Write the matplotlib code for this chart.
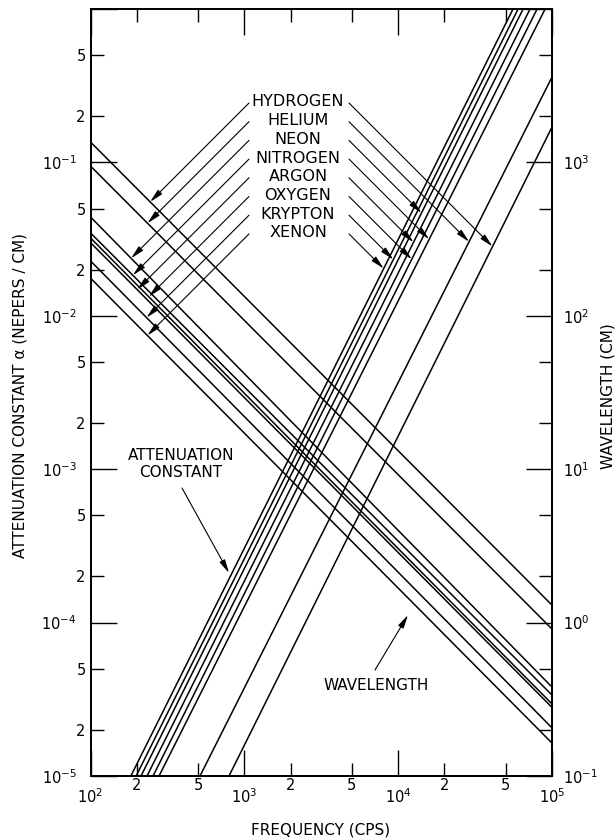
import matplotlib
matplotlib.use('Agg')
import matplotlib.pyplot as plt
import numpy as np
from matplotlib.ticker import LogLocator, FuncFormatter, NullFormatter

plt.rcParams['font.family'] = 'DejaVu Sans'

# values
gases = ['HYDROGEN', 'HELIUM', 'NEON', 'NITROGEN', 'ARGON', 'OXYGEN', 'KRYPTON', 'XENON']
freq_span = [1e2, 1e5]
# wavelength (cm) at 100 cps and at 100 kcps
wl_at_1e2 = [1358, 947, 441, 347, 300, 322, 228, 176]
wl_at_1e5 = [1.30, 0.908, 0.380, 0.337, 0.280, 0.295, 0.206, 0.164]
# attenuation lines: start at alpha = 1e-5, end point read at top / right edge
alpha_floor = 1e-5
att_f_low = [795, 515, 213, 279, 233, 255, 198, 183]
att_f_high = [1e5, 1e5, 64900, 90200, 72000, 80000, 60200, 55800]
att_a_high = [0.17, 0.36, 1, 1, 1, 1, 1, 1]

W, H = 616, 840
fig = plt.figure(figsize=(W / 100, H / 100), dpi=100)
ax = fig.add_axes([90.5 / W, 1 - 776 / H, 461.5 / W, 767 / H])
ax.set_xscale('log')
ax.set_yscale('log')
ax.set_xlim(1e2, 1e5)
ax.set_ylim(1e-5, 1)
ax2 = ax.twinx()
ax2.set_yscale('log')
ax2.set_ylim(1e-1, 1e4)

for i in range(len(gases)):
    ax.plot([att_f_low[i], att_f_high[i]], [alpha_floor, att_a_high[i]],
            color='black', lw=1.1)
    ax2.plot(freq_span, [wl_at_1e2[i], wl_at_1e5[i]], color='black', lw=1.1)


def major_fmt(skip):
    def f(v, pos):
        e = int(round(np.log10(v)))
        if e == skip:
            return ''
        return r'$\mathregular{10^{%d}}$' % e
    return f


def minor_fmt(v, pos):
    d = v / 10 ** np.floor(np.log10(v) + 1e-9)
    return '%d' % round(d)


for a in (ax.xaxis, ax.yaxis, ax2.yaxis):
    a.set_major_locator(LogLocator(base=10, numticks=20))
    a.set_minor_locator(LogLocator(base=10, subs=(2, 5), numticks=20))
ax.xaxis.set_major_formatter(FuncFormatter(major_fmt(None)))
ax.xaxis.set_minor_formatter(FuncFormatter(minor_fmt))
ax.yaxis.set_major_formatter(FuncFormatter(major_fmt(0)))
ax.yaxis.set_minor_formatter(FuncFormatter(minor_fmt))
ax2.yaxis.set_major_formatter(FuncFormatter(major_fmt(4)))
ax2.yaxis.set_minor_formatter(NullFormatter())

ax.tick_params(which='both', direction='in', top=True, right=False, width=1, labelsize=10.5)
ax.tick_params(which='major', length=18.5)
ax.tick_params(which='minor', length=9.5)
ax.tick_params(axis='x', which='major', pad=8)
ax.tick_params(axis='x', which='minor', pad=1.5)
ax.tick_params(axis='y', which='major', pad=10)
ax.tick_params(axis='y', which='minor', pad=3.5)
ax2.tick_params(which='both', direction='in', width=1, labelsize=10.5)
ax2.tick_params(which='major', length=18.5, pad=8)
ax2.tick_params(which='minor', length=9.5)
for s in ax.spines.values():
    s.set_linewidth(1.3)
for s in ax2.spines.values():
    s.set_linewidth(1.3)

fig.text(321 / W, 1 - 830 / H, 'FREQUENCY (CPS)', ha='center', va='center', fontsize=11)
fig.text(20 / W, 1 - 395 / H, 'ATTENUATION CONSTANT α (NEPERS / CM)', rotation=90,
         ha='center', va='center', fontsize=11)
fig.text(608 / W, 1 - 396 / H, 'WAVELENGTH (CM)', rotation=90,
         ha='center', va='center', fontsize=11)


def hit(p0, d, q0, q1):
    A = np.array([[d[0], -(q1 - q0)[0]], [d[1], -(q1 - q0)[1]]])
    t, s = np.linalg.solve(A, q0 - p0)
    return p0 + t * d


arrow = dict(arrowstyle='-|>,head_length=0.8,head_width=0.18', color='black',
             lw=0.8, shrinkA=0, shrinkB=0, mutation_scale=10)

for i, g in enumerate(gases):
    row = 102 + 18.7 * i
    fig.text(298 / W, 1 - row / H, g, ha='center', va='center', fontsize=11.5)
    # left arrow to wavelength line
    p0 = np.array([249.0, H - row - 1])
    q0 = ax2.transData.transform((freq_span[0], wl_at_1e2[i]))
    q1 = ax2.transData.transform((freq_span[1], wl_at_1e5[i]))
    tip = hit(p0, np.array([-1.0, -1.0]), q0, q1)
    ax.annotate('', xy=tip, xycoords='figure pixels', xytext=p0,
                textcoords='figure pixels', arrowprops=arrow)
    # right arrow to attenuation line
    p0 = np.array([349.0, H - row - 1])
    q0 = ax.transData.transform((att_f_low[i], alpha_floor))
    q1 = ax.transData.transform((att_f_high[i], att_a_high[i]))
    tip = hit(p0, np.array([1.0, -1.0]), q0, q1)
    ax.annotate('', xy=tip, xycoords='figure pixels', xytext=p0,
                textcoords='figure pixels', arrowprops=arrow)

fig.text(181 / W, 1 - 464 / H, 'ATTENUATION\nCONSTANT', ha='center', va='center',
         fontsize=11, linespacing=1.2)
ax.annotate('', xy=(229, H - 573), xycoords='figure pixels', xytext=(182, H - 488),
            textcoords='figure pixels', arrowprops=arrow)
fig.text(376 / W, 1 - 686 / H, 'WAVELENGTH', ha='center', va='center', fontsize=11)
ax.annotate('', xy=(408, H - 615), xycoords='figure pixels', xytext=(375, H - 670),
            textcoords='figure pixels', arrowprops=arrow)

fig.savefig('out.png', dpi=100, facecolor='white')
